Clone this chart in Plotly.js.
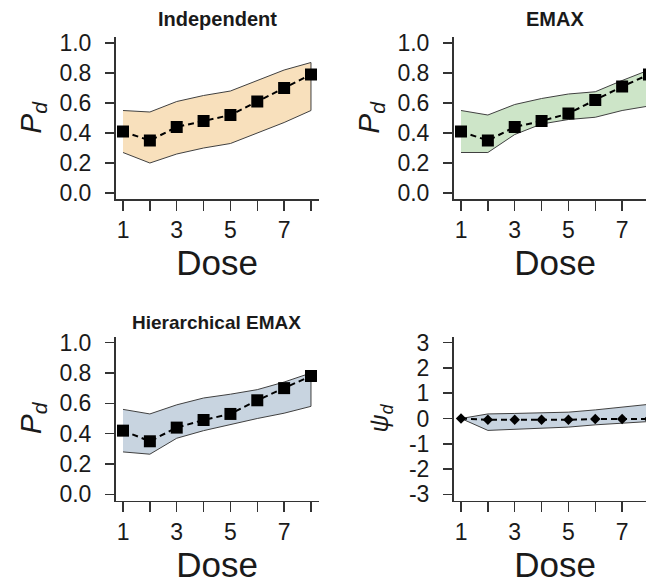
<!DOCTYPE html>
<html>
<head>
<meta charset="utf-8">
<script src="https://cdn.plot.ly/plotly-3.0.1.min.js"></script>
<style>
html, body { margin:0; padding:0; overflow:hidden; background:#fff; }
#chart { width:700px; height:585px; }
</style>
</head>
<body>
<div id="chart"></div>
<script>
// ---- data ----
const doses = [1, 2, 3, 4, 5, 6, 7, 8];
const xLabelDoses = [1, 3, 5, 7];

const indepMean  = [0.41, 0.35, 0.44, 0.48, 0.52, 0.61, 0.70, 0.79];
const indepUpper = [0.55, 0.54, 0.61, 0.65, 0.68, 0.75, 0.82, 0.87];
const indepLower = [0.27, 0.20, 0.26, 0.30, 0.33, 0.40, 0.47, 0.55];

const emaxMean  = [0.41, 0.35, 0.44, 0.48, 0.53, 0.62, 0.71, 0.79];
const emaxUpper = [0.55, 0.52, 0.59, 0.63, 0.66, 0.675, 0.75, 0.82];
const emaxLower = [0.27, 0.27, 0.39, 0.46, 0.49, 0.505, 0.55, 0.58];

const hierMean  = [0.42, 0.35, 0.44, 0.49, 0.53, 0.62, 0.70, 0.78];
const hierUpper = [0.56, 0.53, 0.59, 0.635, 0.66, 0.69, 0.74, 0.80];
const hierLower = [0.28, 0.265, 0.37, 0.42, 0.46, 0.50, 0.535, 0.58];

const psiMean  = [0, -0.05, -0.05, -0.05, -0.05, -0.02, -0.02, -0.02];
const psiUpper = [0, 0.18, 0.20, 0.22, 0.25, 0.34, 0.45, 0.56];
const psiLower = [0, -0.47, -0.43, -0.38, -0.34, -0.25, -0.18, -0.12];

const pTickVals = [0, 0.2, 0.4, 0.6, 0.8, 1.0];
const pTickText = ["0.0", "0.2", "0.4", "0.6", "0.8", "1.0"];
const psiTickVals = [-3, -2, -1, 0, 1, 2, 3];
const psiTickText = ["-3", "-2", "-1", "0", "1", "2", "3"];

const panelTitles = ["Independent", "EMAX", "Hierarchical EMAX"];
const xTitle = "Dose";
const pTitle = "<i>P</i><sub><i>d</i></sub>";
const psiTitle = "<i>ψ</i><sub><i>d</i></sub>";

// ---- layout helpers (pixel geometry) ----
const W = 700, H = 585;
const fx = p => p / W;
const fy = p => 1 - p / H;
const FONT = "Liberation Sans, Arial, sans-serif";
const TXT = "#1a1a1a";

function band(x, up, lo, color, xa, ya) {
  return {
    x: x.concat(x.slice().reverse()),
    y: up.concat(lo.slice().reverse()),
    xaxis: xa, yaxis: ya,
    type: "scatter", mode: "lines",
    fill: "toself", fillcolor: color,
    line: { color: "#404040", width: 1 },
    hoverinfo: "skip", showlegend: false
  };
}
function means(x, y, sym, size, xa, ya) {
  return {
    x: x, y: y, xaxis: xa, yaxis: ya,
    type: "scatter", mode: "lines+markers",
    line: { color: "#000", width: 2, dash: "6px,4px" },
    marker: { symbol: sym, size: size, color: "#000" },
    showlegend: false, cliponaxis: false
  };
}

const traces = [
  band(doses, indepUpper, indepLower, "#f8e0bc", "x", "y"),
  means(doses, indepMean, "square", 12, "x", "y"),
  band(doses, emaxUpper, emaxLower, "#cde5c8", "x2", "y2"),
  means(doses, emaxMean, "square", 12, "x2", "y2"),
  band(doses, hierUpper, hierLower, "#c8d4e0", "x3", "y3"),
  means(doses, hierMean, "square", 12, "x3", "y3"),
  band(doses, psiUpper, psiLower, "#c8d4e0", "x4", "y4"),
  means(doses, psiMean, "diamond", 8, "x4", "y4")
];

const xLeft = [fx(115.5), fx(318.5)];
const xRight = [fx(453.5), fx(656.5)];
const yTop = [fy(199), fy(37)];
const yBot = [fy(500.5), fy(336.5)];

function xaxis(domain, anchor) {
  return {
    domain: domain, anchor: anchor, range: [0.72, 8.28],
    tickvals: xLabelDoses, ticktext: xLabelDoses.map(String),
    ticks: "outside", ticklen: 10, tickwidth: 1.5, tickcolor: "#333",
    minor: { tickvals: doses, ticks: "outside", ticklen: 10, tickwidth: 1.5, tickcolor: "#333", showgrid: false },
    ticklabelstandoff: 0,
    showline: true, linecolor: "#333", linewidth: 1.5,
    showgrid: false, zeroline: false, fixedrange: true,
    tickfont: { family: FONT, size: 23, color: TXT },
    title: { text: xTitle, standoff: 8, font: { family: FONT, size: 35, color: TXT } }
  };
}
function yaxis(domain, anchor, range, vals, text, title, tsize, standoff) {
  return {
    domain: domain, anchor: anchor, range: range,
    tickvals: vals, ticktext: text,
    ticks: "outside", ticklen: 9, tickwidth: 1.5, tickcolor: "#333",
    ticklabelstandoff: 9,
    showline: true, linecolor: "#333", linewidth: 1.5,
    showgrid: false, zeroline: false, fixedrange: true,
    tickfont: { family: FONT, size: 23, color: TXT },
    title: { text: title, standoff: standoff, font: { family: FONT, size: tsize, color: TXT } }
  };
}

const annotations = [];
function ann(text, x, y, size) {
  annotations.push({
    text: "<b>" + text + "</b>",
    xref: "paper", yref: "paper", x: fx(x), y: fy(y),
    xanchor: "center", yanchor: "middle", showarrow: false,
    font: { family: FONT, size: size, color: TXT }
  });
}
ann(panelTitles[0], 217, 19, 20);
ann(panelTitles[1], 555, 19, 20);
ann(panelTitles[2], 216, 322, 19);

const layout = {
  width: W, height: H,
  margin: { l: 0, r: 0, t: 0, b: 0 },
  paper_bgcolor: "#fff", plot_bgcolor: "rgba(0,0,0,0)",
  showlegend: false,
  font: { family: FONT, color: TXT },
  xaxis: xaxis(xLeft, "y"),
  yaxis: yaxis(yTop, "x", [-0.04, 1.04], pTickVals, pTickText, pTitle, 30, 9),
  xaxis2: xaxis(xRight, "y2"),
  yaxis2: yaxis(yTop, "x2", [-0.04, 1.04], pTickVals, pTickText, pTitle, 30, 9),
  xaxis3: xaxis(xLeft, "y3"),
  yaxis3: yaxis(yBot, "x3", [-0.04, 1.04], pTickVals, pTickText, pTitle, 30, 9),
  xaxis4: xaxis(xRight, "y4"),
  yaxis4: yaxis(yBot, "x4", [-3.24, 3.24], psiTickVals, psiTickText, psiTitle, 25, 13),
  annotations: annotations
};

Plotly.newPlot("chart", traces, layout, { staticPlot: true, displayModeBar: false });
</script>
</body>
</html>
